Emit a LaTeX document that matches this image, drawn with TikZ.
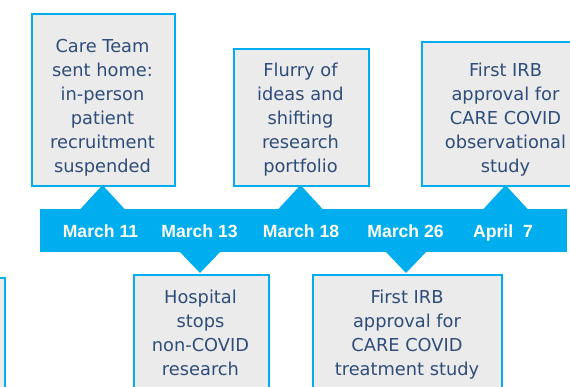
\documentclass[tikz,border=0pt]{standalone}
\usepackage{fontspec}
\setmainfont{DejaVu Sans}
\newfontfamily\datefont{Liberation Sans}
\definecolor{cyanb}{HTML}{00AEEF}
\definecolor{boxgray}{HTML}{EBEBEB}
\definecolor{txtblue}{HTML}{2E4D7B}
\begin{document}
\begin{tikzpicture}[x=1pt,y=-1pt,
  box/.style={draw=cyanb, fill=boxgray, line width=2pt, inner sep=0pt, anchor=north west},
  txt/.style={anchor=north, inner sep=0pt, align=center, text=txtblue, font=\fontsize{17.8}{24}\selectfont},
  datelbl/.style={text=white, font=\datefont\bfseries\fontsize{17.6}{20}\selectfont, inner sep=0pt, anchor=base},
  pointer/.style={fill=cyanb},
  barstyle/.style={fill=cyanb, inner sep=0pt, anchor=north west}]
\useasboundingbox (0,0) rectangle (570,386);
\clip (0,0) rectangle (570,386);

% timeline bar
\node[barstyle, minimum width=527pt, minimum height=43pt] (bar) at (40,209) {};

% boxes
\node[box, minimum width=143pt, minimum height=172pt] (b1) at (31,13) {};
\node[box, minimum width=135pt, minimum height=137pt] (b2) at (233,48) {};
\node[box, minimum width=180pt, minimum height=144pt] (b3) at (421,41) {};
\node[box, minimum width=135pt, minimum height=150pt] (b4) at (133,274) {};
\node[box, minimum width=189pt, minimum height=150pt] (b5) at (312,274) {};
\node[box, minimum width=104pt, minimum height=150pt] (b0) at (-100,277) {};

% pointers
\fill[pointer] (102.5,185) -- (79.5,210) -- (125.5,210) -- cycle;
\fill[pointer] (300.5,185) -- (277.5,210) -- (323.5,210) -- cycle;
\fill[pointer] (505.5,185) -- (482.5,210) -- (528.5,210) -- cycle;
\fill[pointer] (200,273) -- (179,251) -- (221,251) -- cycle;
\fill[pointer] (406,273) -- (385,251) -- (427,251) -- cycle;

% texts
\node[txt] (t1) at (102.5,38) {\rule{0pt}{14pt}Care Team\\sent home:\\in-person\\patient\\recruitment\\suspended};
\node[txt] (t2) at (300.5,62) {\rule{0pt}{14pt}Flurry of\\ideas and\\shifting\\research\\portfolio};
\node[txt] (t3) at (505.5,62) {\rule{0pt}{14pt}First IRB\\approval for\\CARE COVID\\observational\\study};
\node[txt] (t4) at (200.5,289) {\rule{0pt}{14pt}Hospital\\stops\\non-COVID\\research};
\node[txt] (t5) at (407,289) {\rule{0pt}{14pt}First IRB\\approval for\\CARE COVID\\treatment study};

% dates
\node[datelbl] (d1) at (100.5,237.7) {March 11};
\node[datelbl] (d2) at (199.5,237.7) {March 13};
\node[datelbl] (d3) at (301,237.7) {March 18};
\node[datelbl] (d4) at (405.5,237.7) {March 26};
\node[datelbl] (d5) at (503,237.7) {April\ \ 7};
\end{tikzpicture}
\end{document}
